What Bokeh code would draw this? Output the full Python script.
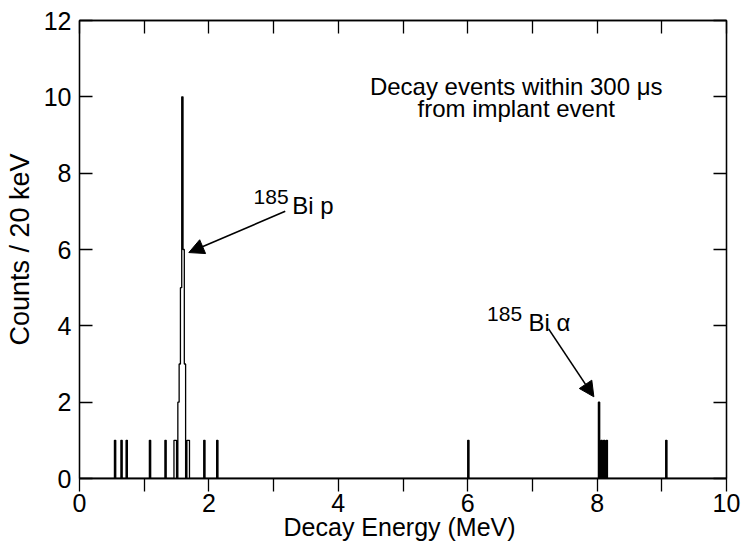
import numpy as np
from bokeh.plotting import figure
from bokeh.models import Range1d, LinearAxis, FixedTicker, Label, Arrow, NormalHead
from bokeh.embed import file_html
from bokeh.resources import INLINE

# ---- data (20 keV bins; start energy of each non-empty bin in MeV, and its count) ----
BIN_WIDTH_MEV = 0.02
bin_start_mev = [0.54, 0.64, 0.72, 1.08, 1.32, 1.46, 1.48, 1.52, 1.54, 1.56, 1.58,
                 1.60, 1.62, 1.66, 1.68, 1.92, 2.12, 6.00, 8.02, 8.06, 8.10, 8.14, 9.06]
bin_counts = [1, 1, 1, 1, 1, 1, 1, 2, 3, 5, 10,
              6, 3, 1, 1, 1, 1, 1, 2, 1, 1, 1, 1]

x_major_ticks = [0, 2, 4, 6, 8, 10]
x_minor_ticks = [1, 3, 5, 7, 9]
y_major_ticks = [0, 2, 4, 6, 8, 10, 12]
top_ticks = [0, 1, 2, 3, 4, 5, 6, 7, 8, 9, 10]

x_title = "Decay Energy  (MeV)"
y_title = "Counts / 20 keV"

FONT = "Liberation Sans"

n_bins = int(round(10 / BIN_WIDTH_MEV))
edges = np.round(np.arange(n_bins + 1) * BIN_WIDTH_MEV, 2)
counts = np.zeros(n_bins)
for e, c in zip(bin_start_mev, bin_counts):
    counts[int(round(e / BIN_WIDTH_MEV))] = c

p = figure(width=741, height=552, x_range=Range1d(0, 10), y_range=Range1d(0, 12),
           output_backend="svg", toolbar_location=None,
           min_border_left=79, min_border_right=15, min_border_top=20, min_border_bottom=74)
p.background_fill_color = "white"
p.border_fill_color = "white"
p.outline_line_color = "black"
p.outline_line_width = 1.3
p.grid.visible = False

p.step(x=edges, y=np.append(counts, 0), mode="after", line_color="black", line_width=1.3)

# bottom axis
xa = p.xaxis[0]
xa.ticker = FixedTicker(ticks=x_major_ticks, minor_ticks=x_minor_ticks)
xa.major_tick_in = 0
xa.major_tick_out = 13
xa.minor_tick_in = 0
xa.minor_tick_out = 13
xa.major_tick_line_width = 1.3
xa.minor_tick_line_width = 1.3
xa.axis_line_width = 1.3
xa.axis_line_color = "black"
xa.major_tick_line_color = "black"
xa.minor_tick_line_color = "black"
xa.major_label_text_font = FONT
xa.major_label_text_font_size = "25px"
xa.major_label_text_color = "black"
xa.major_label_standoff = 2
xa.axis_label = x_title
xa.axis_label_text_font = FONT
xa.axis_label_text_font_size = "25px"
xa.axis_label_text_font_style = "normal"
xa.axis_label_text_color = "black"
xa.axis_label_standoff = -2

# left axis
ya = p.yaxis[0]
ya.ticker = FixedTicker(ticks=y_major_ticks)
ya.major_tick_in = 13
ya.major_tick_out = 0
ya.minor_tick_line_color = None
ya.major_tick_line_width = 1.3
ya.axis_line_width = 1.3
ya.axis_line_color = "black"
ya.major_tick_line_color = "black"
ya.major_label_text_font = FONT
ya.major_label_text_font_size = "25px"
ya.major_label_text_color = "black"
ya.major_label_standoff = 8
ya.axis_label = y_title
ya.axis_label_text_font = FONT
ya.axis_label_text_font_size = "27px"
ya.axis_label_text_font_style = "normal"
ya.axis_label_text_color = "black"
ya.axis_label_standoff = 6

# top axis (ticks only, labels not drawn)
ta = LinearAxis(ticker=FixedTicker(ticks=top_ticks), major_tick_in=13, major_tick_out=0,
                minor_tick_line_color=None, major_label_text_font_size="1px",
                major_label_text_color=None, major_label_text_alpha=0,
                major_tick_line_width=1.3, axis_line_width=1.3, major_label_standoff=0)
p.add_layout(ta, "above")

# right axis (ticks only, labels not drawn)
ra = LinearAxis(ticker=FixedTicker(ticks=y_major_ticks), major_tick_in=13, major_tick_out=0,
                minor_tick_line_color=None, major_label_text_font_size="1px",
                major_label_text_color=None, major_label_text_alpha=0,
                major_tick_line_width=1.3, axis_line_width=1.3, major_label_standoff=0)
p.add_layout(ra, "right")

# annotations
def lab(x, y, text, size, align="left"):
    p.add_layout(Label(x=x, y=y, text=text, text_font=FONT, text_font_size=size,
                       text_color="black", text_align=align, text_baseline="alphabetic"))

lab(6.75, 10.27, "Decay events within 300 \u03bcs", "24px", "center")
lab(6.75, 9.70, "from implant event", "24px", "center")

lab(2.69, 7.37, "185", "21px")
lab(3.29, 7.14, "Bi p", "24px")
lab(6.30, 4.31, "185", "21px")
lab(6.94, 4.09, "Bi \u03b1", "24px")

p.add_layout(Arrow(x_start=3.18, y_start=7.0, x_end=1.69, y_end=5.92, line_width=1.6,
                   line_color="black",
                   end=NormalHead(size=15, fill_color="black", line_color="black", line_width=1)))
p.add_layout(Arrow(x_start=7.25, y_start=3.92, x_end=7.95, y_end=2.14, line_width=1.6,
                   line_color="black",
                   end=NormalHead(size=15, fill_color="black", line_color="black", line_width=1)))

open("out.html", "w").write(file_html(p, INLINE))
